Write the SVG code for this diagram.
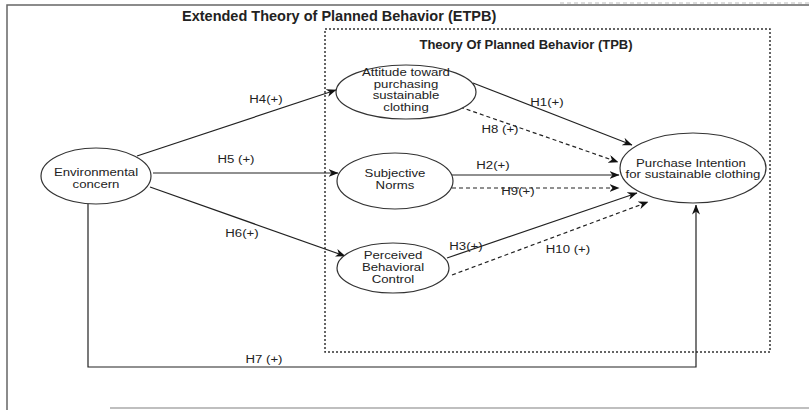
<svg xmlns="http://www.w3.org/2000/svg" width="809" height="410" viewBox="0 0 809 410">
<style>
  text { font-family: "Liberation Sans", Arial, sans-serif; fill: #222; }
  .node ellipse { fill: #fff; stroke: #333; stroke-width: 1.2; }
  .nt { font-size: 11px; text-anchor: middle; }
  .lbl { font-size: 11px; text-anchor: middle; }
  .e { fill: none; stroke: #222; stroke-width: 1.2; marker-end: url(#arr); }
  .d { stroke-dasharray: 4 3; }
  .title { font-size: 14.5px; font-weight: bold; }
  .sub { font-size: 13px; font-weight: bold; text-anchor: middle; }
</style>
<defs>
  <marker id="arr" viewBox="0 0 10 8" refX="9.5" refY="4" markerWidth="10" markerHeight="8" markerUnits="userSpaceOnUse" orient="auto">
    <path d="M0,0 L10,4 L0,8 L3,4 z" fill="#111"/>
  </marker>
</defs>
<rect width="809" height="410" fill="#fff"/>
<g id="frame">
  <path d="M7,410 V5 H809" fill="none" stroke="#666" stroke-width="1.5"/>
  <path d="M560,3 H809" fill="none" stroke="#bbb" stroke-width="1" stroke-dasharray="4 3"/>
  <path d="M110,408 H809" fill="none" stroke="#aaa" stroke-width="1.5"/>
  <text class="title" x="182" y="21">Extended Theory of Planned Behavior (ETPB)</text>
</g>
<g id="tpb-box">
  <rect x="325" y="29" width="445" height="323" fill="none" stroke="#333" stroke-width="1.5" stroke-dasharray="2 2"/>
  <text class="sub" x="526" y="49">Theory Of Planned Behavior (TPB)</text>
</g>
<g id="connectors">
  <path class="e" d="M137,156 L336,90"/>
  <path class="e" d="M153,173 L338,173"/>
  <path class="e" d="M150,187 L345,256"/>
  <path class="e" d="M473,83 L632,145"/>
  <path class="e d" d="M460,107 L618,162"/>
  <path class="e" d="M452,175 L619,175"/>
  <path class="e d" d="M452,188 L619,188"/>
  <path class="e" d="M447,258 L637,193"/>
  <path class="e d" d="M452,275 L648,202"/>
  <path class="e" d="M88,204 V367 H696 V205"/>
  <text class="lbl" transform="translate(266 103) scale(1.2 1)">H4(+)</text>
  <text class="lbl" transform="translate(236 163) scale(1.2 1)">H5 (+)</text>
  <text class="lbl" transform="translate(242 237) scale(1.2 1)">H6(+)</text>
  <text class="lbl" transform="translate(547 106) scale(1.2 1)">H1(+)</text>
  <text class="lbl" transform="translate(500 133) scale(1.2 1)">H8 (+)</text>
  <text class="lbl" transform="translate(493 169) scale(1.2 1)">H2(+)</text>
  <text class="lbl" transform="translate(518 195) scale(1.2 1)">H9(+)</text>
  <text class="lbl" transform="translate(466 250) scale(1.2 1)">H3(+)</text>
  <text class="lbl" transform="translate(568 253) scale(1.2 1)">H10 (+)</text>
  <text class="lbl" transform="translate(264 363) scale(1.2 1)">H7 (+)</text>
</g>
<g id="environmental-concern" class="node">
  <ellipse cx="96" cy="176" rx="55" ry="28"/>
  <text class="nt" transform="translate(96 176) scale(1.2 1)">Environmental</text>
  <text class="nt" transform="translate(96 187.5) scale(1.2 1)">concern</text>
</g>
<g id="attitude" class="node">
  <ellipse cx="406" cy="92" rx="70" ry="27"/>
  <text class="nt" transform="translate(406 76) scale(1.2 1)">Attitude toward</text>
  <text class="nt" transform="translate(406 87.5) scale(1.2 1)">purchasing</text>
  <text class="nt" transform="translate(406 99) scale(1.2 1)">sustainable</text>
  <text class="nt" transform="translate(406 110.5) scale(1.2 1)">clothing</text>
</g>
<g id="subjective-norms" class="node">
  <ellipse cx="395" cy="181" rx="58" ry="28"/>
  <text class="nt" transform="translate(395 177) scale(1.2 1)">Subjective</text>
  <text class="nt" transform="translate(395 189) scale(1.2 1)">Norms</text>
</g>
<g id="perceived-behavioral-control" class="node">
  <ellipse cx="393" cy="268" rx="56" ry="25"/>
  <text class="nt" transform="translate(393 259) scale(1.2 1)">Perceived</text>
  <text class="nt" transform="translate(393 271) scale(1.2 1)">Behavioral</text>
  <text class="nt" transform="translate(393 282.5) scale(1.2 1)">Control</text>
</g>
<g id="purchase-intention" class="node">
  <ellipse cx="693" cy="168" rx="73" ry="35"/>
  <text class="nt" transform="translate(691 166.5) scale(1.2 1)">Purchase Intention</text>
  <text class="nt" transform="translate(693 178) scale(1.2 1)">for sustainable clothing</text>
</g>
</svg>
